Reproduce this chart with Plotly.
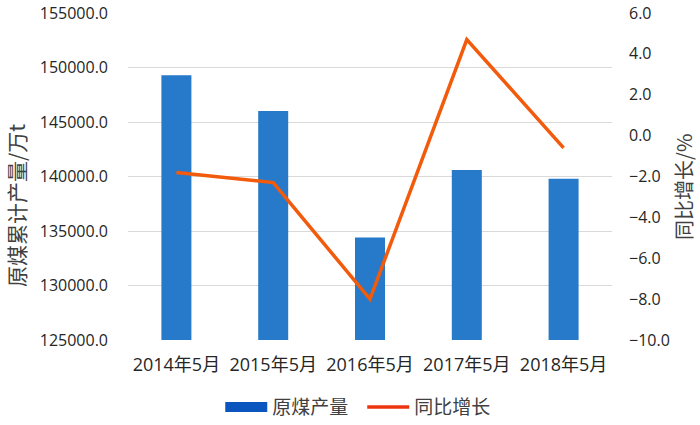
import plotly.graph_objects as go

categories = ["2014年5月", "2015年5月", "2016年5月", "2017年5月", "2018年5月"]
output = [149300, 146000, 134400, 140600, 139800]
growth = [-1.8, -2.3, -8.0, 4.7, -0.6]

bar_color = "#2779C9"
line_color = "#F25A0C"
legend_bar_color = "#0A56BE"
legend_line_color = "#EC3410"
font_fam = "Open Sans, Noto Sans CJK SC, sans-serif"
cjk_fam = "Noto Sans CJK SC, sans-serif"

fig = go.Figure()
fig.add_trace(go.Bar(x=categories, y=output, name="原煤产量", marker_color=bar_color,
                     marker_line_width=0, width=0.31, yaxis="y", showlegend=False))
fig.add_trace(go.Scatter(x=categories, y=growth, name="同比增长", mode="lines",
                         line=dict(color=line_color, width=3.5), yaxis="y2", showlegend=False))
# legend entries
fig.add_trace(go.Scatter(x=[None], y=[None], name="原煤产量", mode="lines",
                         line=dict(color=legend_bar_color, width=10), yaxis="y"))
fig.add_trace(go.Scatter(x=[None], y=[None], name="同比增长", mode="lines",
                         line=dict(color=legend_line_color, width=3.5), yaxis="y2"))

fig.update_layout(
    width=700, height=425,
    margin=dict(l=128, r=88, t=13, b=85, autoexpand=False),
    paper_bgcolor="white", plot_bgcolor="white",
    font=dict(family=font_fam, size=16, color="#262626"),
    showlegend=True,
    legend=dict(orientation="h", x=0.484, xanchor="center", y=-0.205, yanchor="middle",
                font=dict(size=19, color="#404040", family=cjk_fam),
                itemwidth=42, tracegroupgap=0, entrywidth=85, entrywidthmode="pixels"),
    xaxis=dict(showgrid=False, showline=False, ticks="", ticklabelstandoff=12,
               tickfont=dict(size=18, color="#262626")),
    yaxis=dict(range=[125000, 155000], dtick=5000, tickformat=".1f",
               showgrid=True, gridcolor="#D9D9D9", gridwidth=1, zeroline=False,
               showline=False, ticklabelstandoff=19, ticklabeloverflow="allow",
               tickfont=dict(size=16, color="#262626")),
    yaxis2=dict(range=[-10, 6], dtick=2, tickformat=".1f", overlaying="y", side="right",
                showgrid=False, zeroline=False, showline=False, ticklabelstandoff=16,
                ticklabeloverflow="allow", tickfont=dict(size=16, color="#262626")),
    annotations=[
        dict(text="原煤累计产量/万t", textangle=-90, xref="paper", yref="paper",
             x=0, y=0.41, xanchor="center", yanchor="middle", xshift=-112, showarrow=False,
             font=dict(size=21, color="#404040", family=cjk_fam)),
        dict(text="同比增长/%", textangle=-90, xref="paper", yref="paper",
             x=1, y=0.468, xanchor="center", yanchor="middle", xshift=72, showarrow=False,
             font=dict(size=20, color="#404040", family=cjk_fam)),
    ],
)

fig.write_html("out.html", config={"displayModeBar": False},
               post_script="document.body.style.margin='0';")
